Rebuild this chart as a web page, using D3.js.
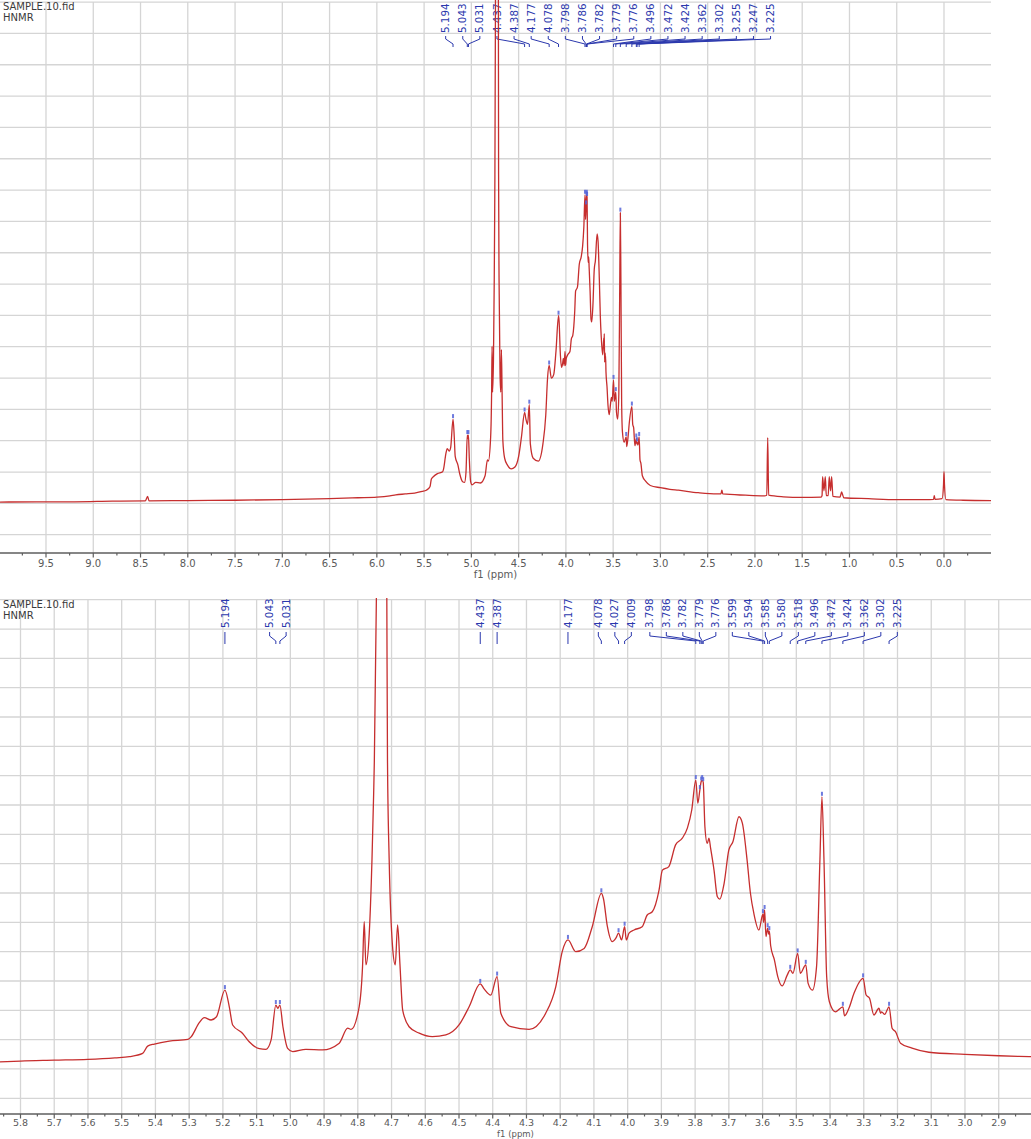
<!DOCTYPE html>
<html><head><meta charset="utf-8">
<script src="https://cdn.jsdelivr.net/npm/d3@7"></script>
<style>body{margin:0;background:#fff}svg{display:block}</style>
</head><body>
<svg id="c" width="1031" height="1139"></svg>
<script>
// ---------------- data ----------------
const sampleName = "SAMPLE.10.fid";
const experimentName = "HNMR";
const axisTitle = "f1 (ppm)";

// [ppm, intensity] (intensity in gridline units)
const spectrumDownfield = [
  [10.0,0.04],[9.6,0.05],[9.2,0.05],[8.8,0.07],[8.45,0.08],[8.425,0.22],[8.41,0.08],
  [8.0,0.09],[7.5,0.10],[7.0,0.12],[6.5,0.15],[6.2,0.18],[6.0,0.20],[5.862,0.24],
  [5.80,0.27],[5.70,0.30],[5.60,0.33],[5.52,0.38]
];
const spectrumAnomeric = [
  [5.477,0.42],[5.438,0.53],[5.423,0.78],[5.403,0.85],[5.359,0.95],[5.304,1.01],[5.294,1.10],
  [5.270,1.58],[5.255,1.75],[5.235,1.67],[5.219,1.78],[5.194,2.69],[5.181,2.12],[5.171,1.50],
  [5.142,1.22],[5.122,0.93],[5.092,0.69],[5.072,0.67],[5.057,0.99],[5.043,2.18],[5.037,2.07],
  [5.031,2.18],[5.022,1.44],[5.008,0.70],[4.993,0.59],[4.954,0.67],[4.905,0.65],[4.855,0.88],
  [4.830,1.39],[4.820,1.35],[4.796,2.12],[4.786,3.49],[4.781,5.02],[4.776,3.55],[4.766,4.64],
  [4.758,7.13],[4.753,9.40],[4.751,10.5],[4.745,16.0],[4.729,40.0],[4.714,16.0],[4.712,10.5],
  [4.707,7.13],[4.697,4.17],[4.689,3.55],[4.682,4.91],[4.675,3.55],[4.667,2.01],[4.648,1.44],
  [4.618,1.22],[4.579,1.10],[4.539,1.16],[4.500,1.50],[4.470,2.12],[4.437,2.90],[4.425,2.72],
  [4.406,2.52],[4.387,3.15],[4.376,1.90],[4.346,1.44],[4.292,1.35]
];
const spectrumRing = [
  [4.243,1.90],[4.213,2.81],[4.194,4.00],[4.177,4.40],[4.154,4.00],[4.129,4.11],[4.105,4.85],
  [4.078,5.99],[4.072,5.82],[4.060,4.85],[4.046,4.34],[4.035,4.46],[4.027,4.63],[4.018,4.40],
  [4.009,4.85],[4.004,4.40],[3.996,4.63],[3.981,4.74],[3.957,4.85],[3.942,5.25],[3.927,5.36],
  [3.907,6.10],[3.897,6.78],[3.878,6.90],[3.858,7.64],[3.838,7.87],[3.823,8.21],[3.810,8.83],
  [3.798,9.85],[3.792,9.06],[3.786,9.51],[3.782,9.80],[3.779,9.85],[3.776,9.78],[3.771,8.26],
  [3.764,7.69],[3.759,7.87],[3.754,7.52],[3.744,6.78],[3.734,5.87],[3.727,5.79],[3.714,6.33],
  [3.700,7.47],[3.688,7.75],[3.670,8.60],[3.660,8.38],[3.646,7.13],[3.636,5.99],[3.626,5.31],
  [3.611,4.74],[3.599,5.28],[3.597,5.00],[3.594,5.42],[3.590,4.51],[3.585,4.80],[3.582,4.60],
  [3.580,4.70],[3.576,4.20],[3.565,3.72],[3.555,3.15],[3.542,2.83],[3.527,3.20],[3.518,3.38],
  [3.510,3.26],[3.496,3.94],[3.488,3.26],[3.472,3.55],[3.465,2.92],[3.452,2.69],[3.440,3.49],
  [3.430,7.13],[3.424,9.28],[3.418,7.13],[3.410,3.15],[3.402,2.29],[3.384,1.95],[3.362,2.12],
  [3.357,1.81],[3.344,2.07],[3.329,2.58],[3.302,3.09],[3.293,2.52],[3.283,2.41],[3.270,1.84],
  [3.255,2.07],[3.250,1.90],[3.247,1.95],[3.238,1.86],[3.225,2.12],[3.216,1.39],[3.206,1.27],
  [3.191,0.88],[3.157,0.71],[3.107,0.57],[3.000,0.50]
];
const spectrumUpfield = [
  [2.90,0.45],[2.81,0.42],[2.60,0.34],[2.40,0.30],[2.36,0.30],[2.35,0.42],[2.34,0.30],
  [2.10,0.26],[1.90,0.24],[1.875,0.26],[1.865,2.10],[1.855,0.26],[1.70,0.21],[1.50,0.19],
  [1.30,0.20],[1.29,0.25],[1.284,0.85],[1.270,0.40],[1.256,0.85],[1.245,0.25],[1.225,0.25],
  [1.214,0.85],[1.200,0.40],[1.189,0.85],[1.175,0.22],[1.10,0.20],[1.09,0.30],[1.083,0.37],
  [1.075,0.30],[1.06,0.18],[0.80,0.15],[0.50,0.12],[0.20,0.12],[0.11,0.13],[0.103,0.25],
  [0.095,0.13],[0.02,0.15],[0.005,0.60],[0.0,1.01],[-0.005,0.60],[-0.02,0.12],[-0.20,0.10],
  [-0.50,0.09]
];

const topPeakLabels = [5.194,5.043,5.031,4.437,4.387,4.177,4.078,3.798,3.786,3.782,3.779,3.776,
  3.496,3.472,3.424,3.362,3.302,3.255,3.247,3.225];
const bottomPeakLabels = [5.194,5.043,5.031,4.437,4.387,4.177,4.078,4.027,4.009,3.798,3.786,3.782,
  3.779,3.776,3.599,3.594,3.585,3.580,3.518,3.496,3.472,3.424,3.362,3.302,3.225];

const topTicks = [9.5,9.0,8.5,8.0,7.5,7.0,6.5,6.0,5.5,5.0,4.5,4.0,3.5,3.0,2.5,2.0,1.5,1.0,0.5,0.0];
const bottomTicks = [5.8,5.7,5.6,5.5,5.4,5.3,5.2,5.1,5.0,4.9,4.8,4.7,4.6,4.5,4.4,4.3,4.2,4.1,4.0,
  3.9,3.8,3.7,3.6,3.5,3.4,3.3,3.2,3.1,3.0,2.9];
const gridLevels = [-1,0,1,2,3,4,5,6,7,8,9,10,11,12,13,14,15,16];

const spectrum = [].concat(spectrumDownfield, spectrumAnomeric, spectrumRing, spectrumUpfield);

// ---------------- drawing ----------------
const svg = d3.select("#c");
const FONT = "'DejaVu Sans', Verdana, sans-serif";
const RED = "#c62e2e", BLUE = "#2b38ad", GRID = "#d5d5d5", AX = "#5e5e5e";

const ascending = spectrum.slice().sort((a,b)=>a[0]-b[0]);
const bis = d3.bisector(d=>d[0]).left;
function valueAt(p){
  const i = bis(ascending, p);
  if (i <= 0) return ascending[0][1];
  if (i >= ascending.length) return ascending[ascending.length-1][1];
  const a = ascending[i-1], b = ascending[i];
  return a[1] + (b[1]-a[1]) * (p-a[0])/(b[0]-a[0]);
}

// spread overlapping labels into evenly spaced clusters
function layoutLabels(xs, gap, shift){
  let clusters = xs.map((x,i)=>({idx:[i], center:x}));
  let changed = true;
  while (changed){
    changed = false;
    for (let i=0;i<clusters.length-1;i++){
      const a = clusters[i], b = clusters[i+1];
      const aEnd = a.center + (a.idx.length-1)*gap/2;
      const bStart = b.center - (b.idx.length-1)*gap/2;
      if (bStart - aEnd < gap){
        const idx = a.idx.concat(b.idx);
        clusters.splice(i,2,{idx, center:d3.mean(idx,k=>xs[k])});
        changed = true; break;
      }
    }
  }
  const out = [];
  clusters.forEach(c=>c.idx.forEach((k,j)=>{
    const s = c.idx.length > 1 ? shift : 0;
    out[k] = c.center + s + (j-(c.idx.length-1)/2)*gap;
  }));
  return out;
}

function panel(cfg){
  const g = svg.append("g");
  const x = d3.scaleLinear().domain(cfg.xDomain).range(cfg.xRange);
  const y = d3.scaleLinear().domain([-1,16]).range(cfg.yRange);
  const W = cfg.width;
  const top = y(16), axisY = cfg.axisY;

  // grid
  g.append("g").selectAll("line").data(gridLevels).join("line")
    .attr("x1",0).attr("x2",W).attr("y1",d=>y(d)).attr("y2",d=>y(d))
    .attr("stroke",GRID).attr("stroke-width",1.3);
  g.append("g").selectAll("line").data(cfg.ticks).join("line")
    .attr("x1",d=>x(d)).attr("x2",d=>x(d)).attr("y1",top).attr("y2",axisY)
    .attr("stroke",GRID).attr("stroke-width",1.3);

  // axis
  g.append("line").attr("x1",0).attr("x2",W).attr("y1",axisY).attr("y2",axisY)
    .attr("stroke",AX).attr("stroke-width",1.6);
  g.append("g").selectAll("line").data(cfg.ticks).join("line")
    .attr("x1",d=>x(d)).attr("x2",d=>x(d)).attr("y1",axisY).attr("y2",axisY+4.5)
    .attr("stroke",AX).attr("stroke-width",1.2);
  const minor = cfg.ticks.map(t=>t-cfg.step/2).concat([cfg.ticks[0]+cfg.step/2]);
  g.append("g").selectAll("line").data(minor).join("line")
    .attr("x1",d=>x(d)).attr("x2",d=>x(d)).attr("y1",axisY).attr("y2",axisY+2.5)
    .attr("stroke",AX).attr("stroke-width",1.2);
  g.append("g").selectAll("text").data(cfg.ticks).join("text")
    .attr("x",d=>x(d)).attr("y",axisY+cfg.tickDy).attr("text-anchor","middle")
    .attr("font-family",FONT).attr("font-size",cfg.tickFont).attr("fill","#5a5a5a")
    .text(d=>d.toFixed(1));
  g.append("text").attr("x",W/2).attr("y",axisY+cfg.titleDy).attr("text-anchor","middle")
    .attr("font-family",FONT).attr("font-size",cfg.titleFont).attr("fill","#5a5a5a").text(axisTitle);

  // header
  g.append("text").attr("x",3).attr("y",top+8).attr("font-family",FONT).attr("font-size",10)
    .attr("fill","#3a3a3a").text(sampleName);
  g.append("text").attr("x",3).attr("y",top+19).attr("font-family",FONT).attr("font-size",10)
    .attr("fill","#3a3a3a").text(experimentName);

  // peak labels
  const px = cfg.labels.map(p=>x(p));
  const lx = layoutLabels(px, cfg.gap, cfg.labelShift);
  const lab = g.append("g");
  cfg.labels.forEach((p,i)=>{
    lab.append("text").attr("transform",`translate(${lx[i]+3.6},${cfg.textBottom}) rotate(-90)`)
      .attr("font-family",FONT).attr("font-size",10.3).attr("fill",BLUE).text(p.toFixed(3));
    const c = cfg.conn;
    lab.append("path").attr("d",`M${lx[i]},${c[0]}V${c[1]}L${px[i]},${c[2]}V${c[3]}`)
      .attr("fill","none").attr("stroke",BLUE).attr("stroke-width",1);
  });

  // spectrum
  const clipId = "clip"+cfg.id;
  svg.append("clipPath").attr("id",clipId).append("rect")
    .attr("x",0).attr("y",cfg.clipTop).attr("width",W).attr("height",axisY-cfg.clipTop);
  const line = d3.line().x(d=>x(d[0])).y(d=>y(d[1])).curve(d3.curveMonotoneX);
  const dom = cfg.xDomain;
  const lo = Math.min(dom[0],dom[1]), hi = Math.max(dom[0],dom[1]);
  const vis = spectrum.filter((d,i,a)=>{
    const prev = a[i-1], next = a[i+1];
    return (d[0]>=lo && d[0]<=hi) || (prev && prev[0]>=lo && prev[0]<=hi) || (next && next[0]>=lo && next[0]<=hi);
  });
  g.append("path").datum(vis).attr("d",line).attr("fill","none")
    .attr("stroke",RED).attr("stroke-width",1.3).attr("stroke-linejoin","round")
    .attr("clip-path",`url(#${clipId})`);

  // peak markers
  g.append("g").selectAll("rect").data(cfg.labels).join("rect")
    .attr("x",d=>x(d)-1).attr("y",d=>y(valueAt(d))-5).attr("width",2).attr("height",4)
    .attr("fill","#5564d8").attr("opacity",0.85);
}

// top overview panel
const topX = d3.scaleLinear().domain([9.5,0]).range([46,944]);
panel({
  id:"top", width:991, xDomain:[topX.invert(0), topX.invert(991)], xRange:[0,991],
  yRange:[534.7,2.1], axisY:553, ticks:topTicks, step:0.5,
  tickDy:14, tickFont:10, titleDy:25, titleFont:10,
  labels:topPeakLabels, gap:17.1, labelShift:33, textBottom:33, conn:[36,39,44,47], clipTop:0
});
// bottom zoom panel
const botX = d3.scaleLinear().domain([5.8,2.9]).range([20.5,998.7]);
panel({
  id:"bot", width:1031, xDomain:[botX.invert(0), botX.invert(1031)], xRange:[0,1031],
  yRange:[1098.3,599.7], axisY:1114, ticks:bottomTicks, step:0.1,
  tickDy:12, tickFont:9.5, titleDy:22.5, titleFont:8.5,
  labels:bottomPeakLabels, gap:16.5, labelShift:0, textBottom:628, conn:[632,636,641,644], clipTop:598
});
</script>
</body></html>
